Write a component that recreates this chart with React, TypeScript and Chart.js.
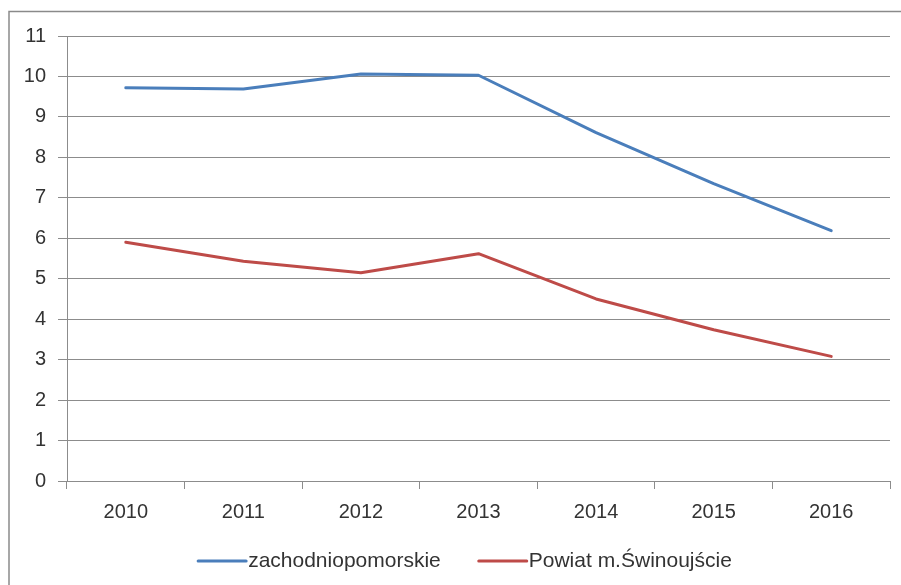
import { useEffect, useRef } from 'react';
import { Chart, registerables } from 'chart.js';

Chart.register(...registerables);

const years = ['2010', '2011', '2012', '2013', '2014', '2015', '2016'];
const zachodniopomorskie = [9.72, 9.69, 10.06, 10.03, 8.61, 7.35, 6.19];
const swinoujscie = [5.9, 5.43, 5.15, 5.62, 4.5, 3.74, 3.08];
const seriesNames = ['zachodniopomorskie', 'Powiat m.Świnoujście'];
const yMin = 0;
const yMax = 11;
const yStep = 1;

const FONT = '"Liberation Sans", Arial, sans-serif';
const GRID = '#8c8c8c';
const TEXT = '#333333';

const framePlugin = {
  id: 'frame',
  beforeDraw(chart: any) {
    const { ctx, width, height } = chart;
    ctx.save();
    ctx.strokeStyle = '#8a8a8a';
    ctx.lineWidth = 1.5;
    ctx.beginPath();
    ctx.moveTo(9, height);
    ctx.lineTo(9, 11.5);
    ctx.lineTo(width, 11.5);
    ctx.stroke();
    ctx.restore();
  },
};

const legendPlugin = {
  id: 'excelLegend',
  afterDraw(chart: any) {
    const ctx = chart.ctx;
    ctx.save();
    ctx.font = `21px ${FONT}`;
    ctx.textBaseline = 'middle';
    ctx.textAlign = 'left';
    const lineW = 48;
    const gap = 2;
    const itemGap = 38;
    const items = chart.data.datasets.map((ds: any) => ({
      text: ds.label as string,
      color: ds.borderColor as string,
      w: ctx.measureText(ds.label).width,
    }));
    const total =
      items.reduce((s: number, it: any) => s + lineW + gap + it.w, 0) + itemGap * (items.length - 1);
    let x = 465 - total / 2;
    const y = 561;
    items.forEach((it: any) => {
      ctx.strokeStyle = it.color;
      ctx.lineWidth = 3;
      ctx.lineCap = 'round';
      ctx.beginPath();
      ctx.moveTo(x, y);
      ctx.lineTo(x + lineW, y);
      ctx.stroke();
      ctx.fillStyle = TEXT;
      ctx.fillText(it.text, x + lineW + gap, y);
      x += lineW + gap + it.w + itemGap;
    });
    ctx.restore();
  },
};

export default function App() {
  const ref = useRef<HTMLCanvasElement | null>(null);

  useEffect(() => {
    if (!ref.current) return;
    const chart = new Chart(ref.current, {
      type: 'line',
      data: {
        labels: years,
        datasets: [
          {
            label: seriesNames[0],
            data: zachodniopomorskie,
            borderColor: '#4A7EBB',
            backgroundColor: '#4A7EBB',
            borderWidth: 3,
            pointRadius: 0,
            tension: 0,
            borderJoinStyle: 'round',
            borderCapStyle: 'round',
          },
          {
            label: seriesNames[1],
            data: swinoujscie,
            borderColor: '#BE4B48',
            backgroundColor: '#BE4B48',
            borderWidth: 3,
            pointRadius: 0,
            tension: 0,
            borderJoinStyle: 'round',
            borderCapStyle: 'round',
          },
        ],
      },
      options: {
        responsive: false,
        animation: false,
        layout: { padding: { left: 0, right: 11, top: 36, bottom: 64 } },
        plugins: {
          legend: { display: false },
          tooltip: { enabled: false },
        },
        scales: {
          x: {
            offset: true,
            grid: {
              display: true,
              drawOnChartArea: false,
              drawTicks: true,
              tickLength: 8,
              offset: true,
              color: GRID,
            },
            border: { display: true, color: GRID },
            ticks: { padding: 11, color: TEXT, font: { family: FONT, size: 20 } },
            afterFit: (s: any) => {
              s.height = 40;
            },
          },
          y: {
            min: yMin,
            max: yMax,
            ticks: { stepSize: yStep, padding: 12, color: TEXT, font: { family: FONT, size: 20 } },
            grid: { color: GRID, tickLength: 9 },
            border: { display: true, color: GRID },
            afterFit: (s: any) => {
              s.width = 67;
            },
          },
        },
      },
      plugins: [framePlugin, legendPlugin],
    });
    return () => chart.destroy();
  }, []);

  return (
    <div style={{ position: 'absolute', left: 0, top: 0, width: 901, height: 585, background: '#fff' }}>
      <canvas ref={ref} width={901} height={585} />
    </div>
  );
}
